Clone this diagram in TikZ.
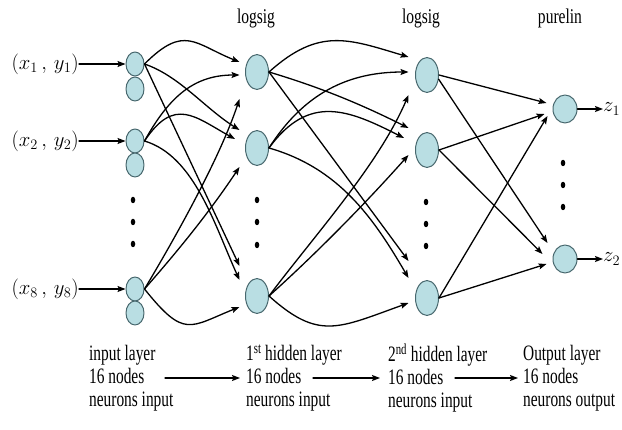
\documentclass[tikz,border=0pt]{standalone}
\usepackage{fontspec}
\setmainfont{Liberation Serif}
\usetikzlibrary{arrows.meta,shapes.geometric}
\definecolor{cellfill}{RGB}{185,222,227}
\definecolor{celledge}{RGB}{72,104,110}
\tikzset{
  every picture/.style={line join=round, line cap=round, >={Stealth[length=8pt,width=6pt,inset=1.5pt]}},
  inneuron/.style={ellipse, draw=celledge, fill=cellfill, line width=1pt, minimum width=18pt, minimum height=24pt, inner sep=0pt},
  hidneuron/.style={inneuron, minimum width=23pt, minimum height=35pt},
  outneuron/.style={inneuron, minimum width=24pt, minimum height=28pt},
  vdot/.style={ellipse, fill=black, inner sep=0pt, minimum width=4.5pt, minimum height=6.5pt},
  wire/.style={->, line width=1.3pt},
  laytext/.style={font=\fontsize{22}{23}\selectfont, inner sep=0pt, align=left, anchor=west, xscale=0.7, transform shape},
  toptext/.style={font=\fontsize{21}{22}\selectfont, inner sep=0pt, xscale=0.74, transform shape},
  pairtext/.style={font=\fontsize{22}{24}\selectfont, inner sep=0pt, anchor=east},
}

\begin{document}
\begin{tikzpicture}[x=1pt,y=1pt]
\useasboundingbox (0,0) rectangle (622,429);
% input layer
\node[inneuron] (I1a) at (135,365) {};
\node[inneuron] (I1b) at (135,340) {};
\node[inneuron] (I2a) at (135,288) {};
\node[inneuron] (I2b) at (135,264) {};
\node[inneuron] (I3a) at (135,140) {};
\node[inneuron] (I3b) at (135,116) {};
\node[vdot] (di1) at (133,229) {};
\node[vdot] (di2) at (133,207) {};
\node[vdot] (di3) at (133,185) {};
% first hidden layer
\node[hidneuron] (H1) at (257,357) {};
\node[hidneuron] (H2) at (257,281) {};
\node[hidneuron] (H3) at (257,133) {};
\node[vdot] (dh1) at (257,229) {};
\node[vdot] (dh2) at (257,207) {};
\node[vdot] (dh3) at (257,184) {};
% second hidden layer
\node[hidneuron] (K1) at (427,354) {};
\node[hidneuron] (K2) at (427,279) {};
\node[hidneuron] (K3) at (427,131) {};
\node[vdot] (dk1) at (426,227) {};
\node[vdot] (dk2) at (426,205) {};
\node[vdot] (dk3) at (426,183) {};
% output layer
\node[outneuron] (O1) at (565,320) {};
\node[outneuron] (O2) at (565,170) {};
\node[vdot] (do1) at (563,266) {};
\node[vdot] (do2) at (563,244) {};
\node[vdot] (do3) at (563,222) {};

% inputs and outputs
\node[pairtext] (P1) at (79,365) {$(x_{1}\,,\,y_{1})$};
\node[pairtext] (P2) at (79,288) {$(x_{2}\,,\,y_{2})$};
\node[pairtext] (P3) at (79,140) {$(x_{8}\,,\,y_{8})$};
\node[pairtext, anchor=west] (Z1) at (603,320) {$z_{1}$};
\node[pairtext, anchor=west] (Z2) at (603,170) {$z_{2}$};
\draw[wire] (P1.east) -- (I1a.west);
\draw[wire] (P2.east) -- (I2a.west);
\draw[wire] (P3.east) -- (I3a.west);
\draw[wire] (O1.east) -- (Z1.west);
\draw[wire] (O2.east) -- (Z2.west);

% input -> first hidden
\draw[wire] (I1a.east) .. controls +(40,40) and +(-45,18) .. ([shift={(-5.5,10)}]H1.west);
\draw[wire] (I1a.east) .. controls +(35,-12) and +(-35,22) .. ([shift={(-5.5,18)}]H2.west);
\draw[wire] (I1a.east) -- ([shift={(-5.5,30)}]H3.west);
\draw[wire] (I2a.east) .. controls +(25,45) and +(-45,0) .. ([shift={(-5.5,-3)}]H1.west);
\draw[wire] (I2a.east) .. controls +(30,45) and +(-40,22) .. ([shift={(-10,9)}]H2.west);
\draw[wire] (I2a.east) .. controls +(50,-15) and +(-25,55) .. ([shift={(-5.5,16)}]H3.west);
\draw[wire] (I3a.east) .. controls +(30,50) and +(-20,-60) .. ([shift={(-5.5,-27)}]H1.west);
\draw[wire] (I3a.east) .. controls +(35,40) and +(-30,-45) .. ([shift={(-5.5,-19)}]H2.west);
\draw[wire] (I3a.east) .. controls +(40,-50) and +(-50,-20) .. ([shift={(-5.5,-11)}]H3.west);

% first hidden -> second hidden
\draw[wire] (H1.east) .. controls +(50,45) and +(-60,18) .. ([shift={(-6.5,18)}]K1.west);
\draw[wire] (H1.east) .. controls +(50,-15) and +(-50,25) .. ([shift={(-6.5,22)}]K2.west);
\draw[wire] (H1.east) -- ([shift={(-6.5,37)}]K3.west);
\draw[wire] (H2.east) .. controls +(35,55) and +(-60,0) .. ([shift={(-6.5,3)}]K1.west);
\draw[wire] (H2.east) .. controls +(40,55) and +(-55,28) .. ([shift={(-11,12)}]K2.west);
\draw[wire] (H2.east) .. controls +(70,-20) and +(-35,60) .. ([shift={(-6.5,20)}]K3.west);
\draw[wire] (H3.east) .. controls +(45,60) and +(-30,-70) .. ([shift={(-6.5,-20)}]K1.west);
\draw[wire] (H3.east) .. controls +(50,45) and +(-40,-45) .. ([shift={(-6.5,-5)}]K2.west);
\draw[wire] (H3.east) .. controls +(50,-45) and +(-70,-25) .. ([shift={(-6.5,-5)}]K3.west);

% second hidden -> output
\draw[wire] (K1.east) -- ([shift={(-6,6)}]O1.west);
\draw[wire] (K1.-20) -- ([shift={(-5,16)}]O2.west);
\draw[wire] (K2.east) -- ([shift={(-8,-5)}]O1.west);
\draw[wire] (K2.east) -- ([shift={(-10,5)}]O2.west);
\draw[wire] (K3.east) -- ([shift={(-5,-7)}]O1.west);
\draw[wire] (K3.east) -- ([shift={(-6,-5)}]O2.west);

% transfer functions
\node[toptext] (T1) at (256,411) {logsig};
\node[toptext] (T2) at (421,411) {logsig};
\node[toptext] (T3) at (560,411) {purelin};

% layer captions
\node[laytext] (C1) at (89,51) {input layer\\16 nodes\\neurons input};
\node[laytext] (C2) at (246,51) {1\textsuperscript{st} hidden layer\\16 nodes\\neurons input};
\node[laytext] (C3) at (388,51) {2\textsuperscript{nd} hidden layer\\16 nodes\\neurons input};
\node[laytext] (C4) at (523,51) {Output layer\\16 nodes\\neurons output};
\draw[wire] ([xshift=76pt]C1.west) -- ([xshift=-6pt]C2.west);
\draw[wire] ([xshift=67pt]C2.west) -- ([xshift=-8pt]C3.west);
\draw[wire] ([xshift=67pt]C3.west) -- ([xshift=-5pt]C4.west);
\end{tikzpicture}
\end{document}
